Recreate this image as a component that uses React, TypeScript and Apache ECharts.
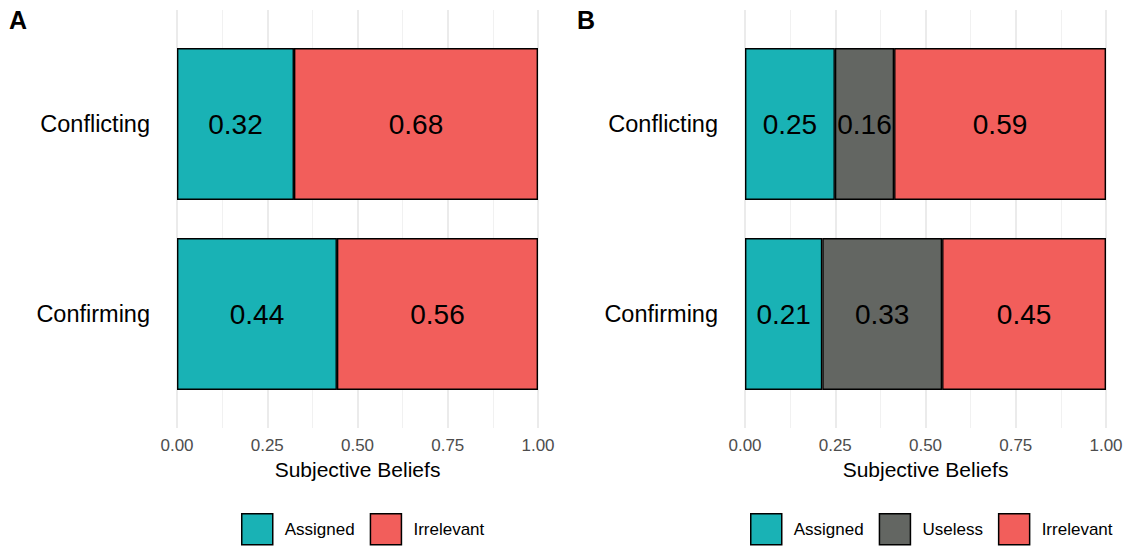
import React, { useEffect, useRef } from "react";
import * as echarts from "echarts";

const categories = ["Conflicting", "Confirming"];
const tickValues = [0, 0.25, 0.5, 0.75, 1];

// Panel A
const aAssigned = [0.324, 0.443];
const aIrrelevant = [0.676, 0.557];
// Panel B
const bAssigned = [0.249, 0.214];
const bUseless = [0.164, 0.332];
const bIrrelevant = [0.587, 0.454];

const seriesNamesA = ["Assigned", "Irrelevant"];
const seriesNamesB = ["Assigned", "Useless", "Irrelevant"];

const COLORS: Record<string, string> = {
  Assigned: "#19B2B5",
  Useless: "#636662",
  Irrelevant: "#F25E5B",
};

const FONT = "'Liberation Sans', Arial, Helvetica, sans-serif";

export default function App() {
  const ref = useRef<HTMLDivElement>(null);
  useEffect(() => {
    if (!ref.current) return;
    const chart = echarts.init(ref.current, null, { renderer: "svg" });

    const panels = [
      { left: 177, names: seriesNamesA, data: [aAssigned, aIrrelevant], legendLeft: 241 },
      { left: 745, names: seriesNamesB, data: [bAssigned, bUseless, bIrrelevant], legendLeft: 750 },
    ];
    const W = 361;

    const grid: any[] = [];
    const xAxis: any[] = [];
    const yAxis: any[] = [];
    const series: any[] = [];
    const legend: any[] = [];

    panels.forEach((p, pi) => {
      const bgIdx = pi * 2;
      const barIdx = pi * 2 + 1;
      grid.push({ left: p.left, width: W, top: 10, height: 418 });
      grid.push({ left: p.left, width: W, top: 29, height: 380 });
      xAxis.push({
        gridIndex: bgIdx,
        type: "value",
        min: 0,
        max: 1,
        interval: 0.25,
        axisLine: { show: false },
        axisTick: { show: false },
        axisLabel: {
          margin: 9,
          fontSize: 17,
          color: "#4D4D4D",
          fontFamily: FONT,
          formatter: (v: number) => (tickValues.includes(v) ? v.toFixed(2) : ""),
        },
        splitLine: { show: true, lineStyle: { color: "#E6E6E6", width: 1.6 } },
        minorTick: { show: false, splitNumber: 2 },
        minorSplitLine: { show: true, lineStyle: { color: "#EFEFEF", width: 0.9 } },
        name: "Subjective Beliefs",
        nameLocation: "middle",
        nameGap: 30,
        nameTextStyle: { fontSize: 21, color: "#000", fontFamily: FONT },
      });
      yAxis.push({ gridIndex: bgIdx, type: "value", show: false, min: 0, max: 1 });
      xAxis.push({
        gridIndex: barIdx,
        type: "value",
        min: 0,
        max: 1,
        show: false,
        splitLine: { show: false },
      });
      yAxis.push({
        gridIndex: barIdx,
        type: "category",
        data: categories,
        inverse: true,
        axisLine: { show: false },
        axisTick: { show: false },
        splitLine: { show: false },
        axisLabel: { margin: 27, fontSize: 23.5, color: "#000", fontFamily: FONT, padding: [3, 0, 0, 0] },
      });
      p.names.forEach((name, si) => {
        series.push({
          name,
          type: "bar",
          xAxisIndex: barIdx,
          yAxisIndex: barIdx,
          stack: "s" + pi,
          data: p.data[si],
          barCategoryGap: "20%",
          itemStyle: { color: COLORS[name], borderColor: "#000", borderWidth: 1.4 },
          label: {
            show: true,
            position: "inside",
            fontSize: 28,
            color: "#000",
            fontFamily: FONT,
            formatter: (d: any) => d.value.toFixed(2),
          },
        });
      });
      legend.push({
        data: p.names.map((n) => ({ name: n, itemStyle: { color: COLORS[n], borderColor: "#000", borderWidth: 1.5 } })),
        left: p.legendLeft,
        top: 513,
        padding: 0,
        itemWidth: 31,
        itemHeight: 31,
        itemGap: 15,
        icon: "rect",
        selectedMode: false,
        textStyle: { fontSize: 17, color: "#000", fontFamily: FONT, padding: [0, 0, 0, 7] },
      });
    });

    chart.setOption({
      animation: false,
      backgroundColor: "#fff",
      grid,
      xAxis,
      yAxis,
      series,
      legend,
      graphic: [
        { type: "text", left: 9, top: 7, style: { text: "A", fontSize: 25, fontWeight: "bold", fill: "#000", fontFamily: FONT } },
        { type: "text", left: 577, top: 7, style: { text: "B", fontSize: 25, fontWeight: "bold", fill: "#000", fontFamily: FONT } },
      ],
    });
    return () => chart.dispose();
  }, []);
  return <div ref={ref} style={{ width: 1128, height: 546, position: "absolute", left: 0, top: 0 }} />;
}
